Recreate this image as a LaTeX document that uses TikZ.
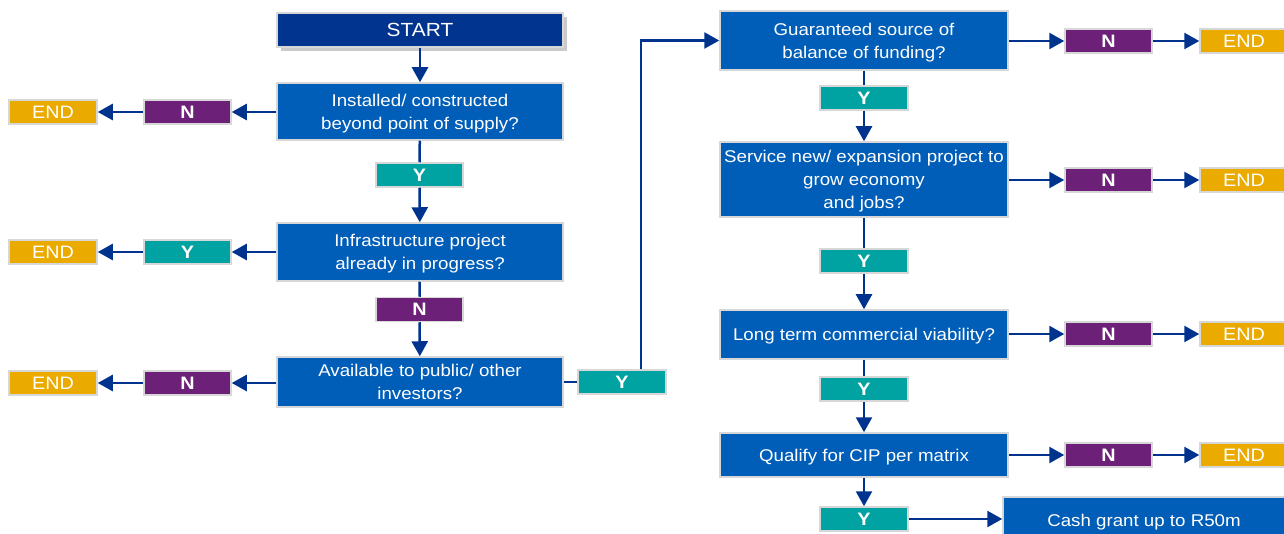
\documentclass[tikz,border=0pt]{standalone}
\usepackage{fontspec}
\setmainfont[FakeStretch=1.1]{Liberation Sans}
\usetikzlibrary{arrows.meta,shadows}
\definecolor{cnavy}{RGB}{0,52,142}
\definecolor{cblue}{RGB}{0,94,184}
\definecolor{cteal}{RGB}{0,163,161}
\definecolor{cpurple}{RGB}{109,32,119}
\definecolor{cgold}{RGB}{234,170,0}
\definecolor{carrow}{RGB}{0,51,141}
\definecolor{cborder}{RGB}{215,215,215}
\tikzset{
  base/.style={draw=cborder, line width=1.5pt, text=white, inner sep=0pt, align=center},
  qbox/.style={base, fill=cblue, minimum width=286pt, text depth=0pt, font=\fontsize{17}{23}\selectfont},
  startbox/.style={base, fill=cnavy, minimum width=286pt, minimum height=34pt, font=\fontsize{19}{23}\selectfont,
     drop shadow={shadow xshift=4pt, shadow yshift=-4pt, fill=black!35, opacity=0.6}},
  ybox/.style={base, fill=cteal, minimum width=87pt, minimum height=24pt, font=\fontsize{18}{20}\selectfont\bfseries},
  nbox/.style={base, fill=cpurple, minimum width=87pt, minimum height=24pt, font=\fontsize{18}{20}\selectfont\bfseries},
  endbox/.style={base, fill=cgold, minimum width=88pt, minimum height=24pt, font=\fontsize{18}{20}\selectfont},
  conn/.style={draw=carrow, line width=2.5pt},
  arr/.style={conn, -{Triangle[length=15pt,width=16pt]}},
}
\begin{document}
\begin{tikzpicture}[x=1pt,y=-1pt]
\useasboundingbox (0,0) rectangle (1284,534);
% left column
\node[startbox] (start) at (420,30) {START};
\node[qbox, minimum height=57pt] (inst) at (420,111.5) {Installed/ constructed\\beyond point of supply?};
\node[ybox] (y1) at (419.5,175) {Y};
\node[qbox, minimum height=58pt] (infra) at (420,252) {Infrastructure project\\already in progress?};
\node[nbox] (n1) at (419.5,309.5) {N};
\node[qbox, minimum height=50pt] (avail) at (420,382) {Available to public/ other\\investors?};
\node[ybox, minimum width=88pt] (yr) at (622,382) {Y};
% left branches
\node[nbox] (nl1) at (187.5,112) {N};
\node[endbox] (el1) at (53,112) {END};
\node[ybox] (yl2) at (187.5,252) {Y};
\node[endbox] (el2) at (53,252) {END};
\node[nbox] (nl3) at (187.5,383) {N};
\node[endbox] (el3) at (53,383) {END};
% right column
\node[qbox, minimum width=288pt, minimum height=59pt] (guar) at (864,40.5) {Guaranteed source of\\balance of funding?};
\node[ybox, minimum width=88pt] (yg) at (864,98) {Y};
\node[qbox, minimum width=288pt, minimum height=75pt] (serv) at (864,179.5) {Service new/ expansion project to\\grow economy\\and jobs?};
\node[ybox, minimum width=88pt] (ys) at (864,261) {Y};
\node[qbox, minimum width=288pt, minimum height=49pt] (long) at (864,334.5) {Long term commercial viability?};
\node[ybox, minimum width=88pt] (yl) at (864,389) {Y};
\node[qbox, minimum width=288pt, minimum height=44pt] (qual) at (864,455) {Qualify for CIP per matrix};
\node[ybox, minimum width=88pt] (yq) at (864,519) {Y};
\node[qbox, minimum width=282pt, minimum height=46pt] (cash) at (1144,520) {Cash grant up to R50m};
% right branches
\node[nbox] (nr1) at (1108.5,41) {N};
\node[endbox] (er1) at (1244,41) {END};
\node[nbox] (nr2) at (1108.5,180) {N};
\node[endbox] (er2) at (1244,180) {END};
\node[nbox] (nr3) at (1108.5,334) {N};
\node[endbox] (er3) at (1244,334) {END};
\node[nbox] (nr4) at (1108.5,455) {N};
\node[endbox] (er4) at (1244,455) {END};
% connectors left column
\draw[arr] (start) -- (inst);
\draw[conn] (inst) -- (y1);
\draw[arr] (y1) -- (infra);
\draw[conn] (infra) -- (n1);
\draw[arr] (n1) -- (avail);
\draw[conn] (avail) -- (yr);
\draw[arr] (inst.west |- nl1) -- (nl1);
\draw[arr] (nl1) -- (el1);
\draw[arr] (infra.west |- yl2) -- (yl2);
\draw[arr] (yl2) -- (el2);
\draw[arr] (avail.west |- nl3) -- (nl3);
\draw[arr] (nl3) -- (el3);
\coordinate (bend) at (641,41);
\draw[arr] (yr.north -| bend) |- (guar.west);
% connectors right column
\draw[conn] (guar) -- (yg);
\draw[arr] (yg) -- (serv);
\draw[conn] (serv) -- (ys);
\draw[arr] (ys) -- (long);
\draw[conn] (long) -- (yl);
\draw[arr] (yl) -- (qual);
\draw[arr] (qual) -- (yq);
\draw[arr] (yq) -- (yq -| cash.west);
\draw[arr] (guar.east |- nr1) -- (nr1);
\draw[arr] (nr1) -- (er1);
\draw[arr] (serv.east |- nr2) -- (nr2);
\draw[arr] (nr2) -- (er2);
\draw[arr] (long.east |- nr3) -- (nr3);
\draw[arr] (nr3) -- (er3);
\draw[arr] (qual.east |- nr4) -- (nr4);
\draw[arr] (nr4) -- (er4);
\end{tikzpicture}
\end{document}
